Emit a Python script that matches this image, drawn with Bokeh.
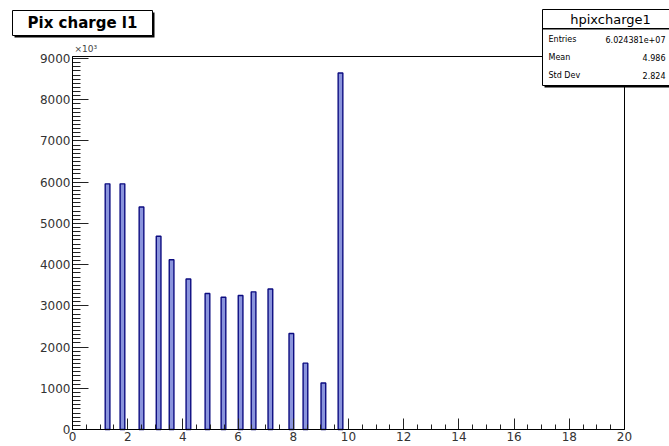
from bokeh.plotting import figure
from bokeh.models import Range1d, SingleIntervalTicker, Label, BoxAnnotation
from bokeh.embed import file_html
from bokeh.resources import INLINE

# ---- data ----
bin_centers = [1.27, 1.81, 2.50, 3.12, 3.59, 4.20, 4.89, 5.47, 6.09, 6.56, 7.17, 7.93, 8.44, 9.09, 9.71]
counts = [5960, 5960, 5400, 4690, 4120, 3650, 3300, 3210, 3250, 3340, 3410, 2330, 1610, 1130, 8650]
hist_title = "Pix charge l1"
stats_name = "hpixcharge1"
stats_labels = ["Entries", "Mean", "Std Dev"]
stats_values = ["6.024381e+07", "4.986", "2.824"]
y_exponent_label = "\u00d710\u00b3"
x_min, x_max = 0, 20
y_min, y_max = 0, 9050

BIN_W = 0.17
FONT = "DejaVu Sans"

# frame geometry in canvas pixels (ROOT pad frame)
FL, FR, FT, FB = 72, 624, 56, 429
W, H = 669, 446

kx = (x_max - x_min) / (FR - FL)
ky = (y_max - y_min) / (FB - FT)
xr = Range1d(x_min - FL * kx, x_max + (W - FR) * kx)
yr = Range1d(y_min - (H - FB) * ky, y_max + FT * ky)

p = figure(width=W, height=H, output_backend="svg", toolbar_location=None,
           x_range=xr, y_range=yr,
           min_border=0, min_border_left=0, min_border_right=0,
           min_border_top=0, min_border_bottom=0)
p.background_fill_color = "white"
p.border_fill_color = "white"
p.outline_line_color = None
p.xgrid.visible = False
p.ygrid.visible = False

left = [c - BIN_W / 2 for c in bin_centers]
right = [c + BIN_W / 2 for c in bin_centers]
p.quad(left=left, right=right, bottom=0, top=counts,
       fill_color="#8a94dc", line_color="#0c0c80", line_width=1.4)

# ROOT frame
p.add_layout(BoxAnnotation(left=x_min, right=x_max, bottom=y_min, top=y_max,
                           fill_alpha=0, line_color="black", line_alpha=1.0, line_width=1))

# axes, ROOT style (ticks inside), drawn at the frame edges
p.xaxis.ticker = SingleIntervalTicker(interval=2, num_minor_ticks=4)
p.yaxis.ticker = SingleIntervalTicker(interval=1000, num_minor_ticks=10)
p.xaxis.fixed_location = y_min
p.yaxis.fixed_location = x_min
p.xaxis.bounds = (x_min, x_max)
p.yaxis.bounds = (y_min, y_max)
for ax in (p.xaxis[0], p.yaxis[0]):
    ax.axis_line_color = "black"
    ax.axis_line_width = 1
    ax.major_tick_line_color = "#222222"
    ax.minor_tick_line_color = "#222222"
    ax.major_tick_out = 0
    ax.minor_tick_out = 0
    ax.major_label_text_font = FONT
    ax.major_label_text_font_size = "12px"
    ax.major_label_text_color = "#333333"
    ax.major_label_standoff = 2
p.xaxis.major_tick_in = 11
p.xaxis.minor_tick_in = 5
p.yaxis.major_tick_in = 16
p.yaxis.minor_tick_in = 8


def box(l, t, r, b, fill="white", line="black", lw=1):
    p.add_layout(BoxAnnotation(left=l, right=r, top=H - t, bottom=H - b,
                               left_units="screen", right_units="screen",
                               top_units="screen", bottom_units="screen",
                               fill_color=fill, fill_alpha=1.0,
                               line_color=line if line else "black", line_width=lw,
                               line_alpha=1.0 if line else 0.0))


def text(cx, cy, s, size, align="left", bold=False, color="black"):
    p.add_layout(Label(x=cx, y=H - cy, x_units="screen", y_units="screen",
                       text=s, text_font=FONT, text_font_size=f"{size}px",
                       text_font_style="bold" if bold else "normal",
                       text_align=align, text_baseline="middle", text_color=color))


# title pave (with shadow)
box(14, 12, 154, 37, fill="black", line=None)
box(12, 10, 152, 35)
text(82, 22.5, hist_title, 15, align="center", bold=True)

# y exponent
text(74, 48, y_exponent_label, 9, color="#444444")

# stats box (with shadow), running off the right edge as in the reference
box(544, 11, 684, 87, fill="black", line=None)
box(542, 9, 682, 85)
box(542, 28, 682, 28.5, fill="black", line="black")
text(610, 19, stats_name, 13, align="center")
rows_y = [39, 57, 75]
for yy, lab, val in zip(rows_y, stats_labels, stats_values):
    text(548, yy, lab, 8)
    text(665, yy, val, 8, align="right")

open("out.html", "w").write(file_html(p, INLINE))
